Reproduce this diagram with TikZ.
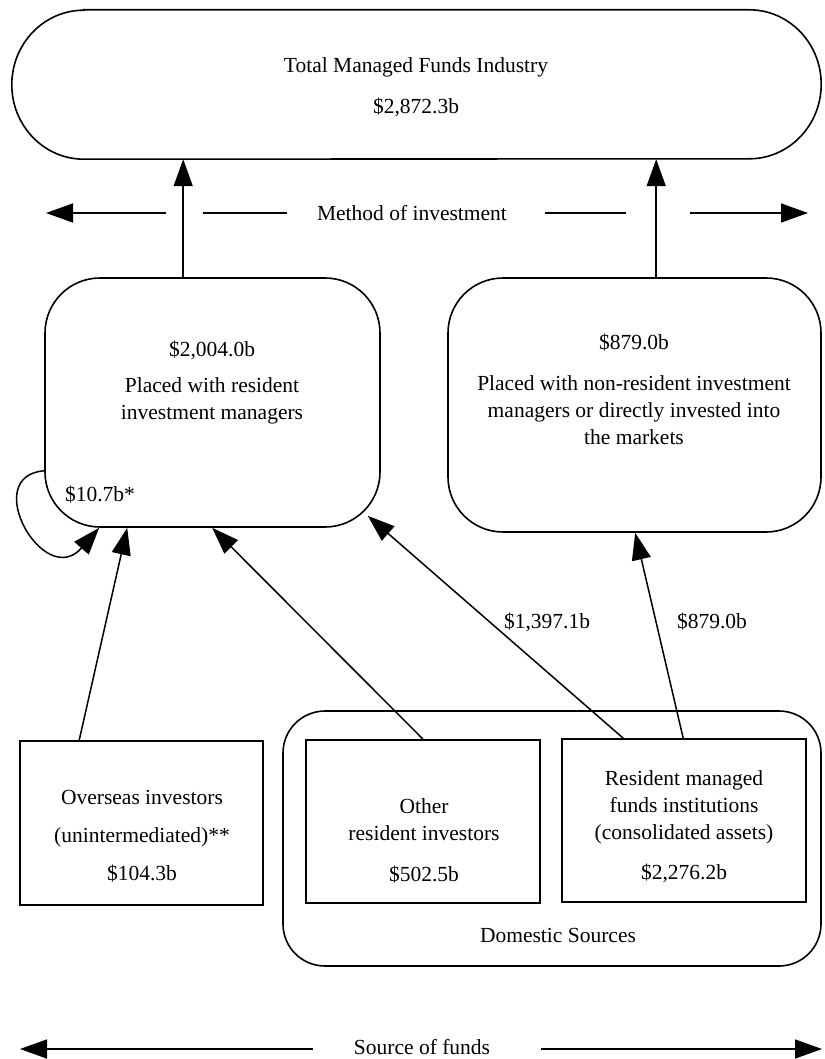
\documentclass[tikz,border=0pt]{standalone}
\usepackage{fontspec}
\setmainfont{Liberation Serif}
\usetikzlibrary{arrows.meta,calc}
\tikzset{
  txt/.style={font=\fontsize{21.5}{27}\selectfont, align=center, inner sep=0pt},
  shapebox/.style={draw, line width=1.6pt, inner sep=0pt},
  arr/.style={line width=1.5pt, -{Triangle[length=27pt,width=19pt]}},
  plain/.style={line width=1.5pt}
}
\begin{document}
\begin{tikzpicture}[x=1pt,y=-1pt]
\useasboundingbox (0,0) rectangle (824,1059);

% top pill
\node[inner sep=0pt, minimum width=809pt, minimum height=149pt] (top) at (416.5,84.5) {};
\draw[line width=1.6pt] ([xshift=72pt]top.north west) -- ([xshift=-72pt]top.north east)
  arc[start angle=90, end angle=-90, x radius=72pt, y radius=74.5pt]
  -- ([xshift=72pt]top.south west)
  arc[start angle=270, end angle=90, x radius=72pt, y radius=74.5pt] -- cycle;
\node[txt] (t1) at (416,67) {Total Managed Funds Industry};
\node[txt] (t2) at (416,107) {\$2,872.3b};

% middle boxes
\node[shapebox, rounded corners=55pt, minimum width=335pt, minimum height=249pt] (lb) at (212.5,402.5) {};
\node[shapebox, rounded corners=55pt, minimum width=373pt, minimum height=254pt] (rb) at (634.5,405) {};
\node[txt] (lb1) at (212,350) {\$2,004.0b};
\node[txt] (lb2) at (212,401) {Placed with resident\\investment managers};
\node[txt] (lb3) at (100,495) {\$10.7b*};
\node[txt] (rb1) at (634,343) {\$879.0b};
\node[txt] (rb2) at (634,410) {Placed with non-resident investment\\managers or directly invested into\\the markets};

% bottom boxes
\node[shapebox, rounded corners=42pt, minimum width=538pt, minimum height=255pt] (dom) at (552,838.5) {};
\node[shapebox, minimum width=243pt, minimum height=164pt] (ov) at (141.5,823) {};
\node[shapebox, minimum width=234pt, minimum height=163pt] (ot) at (423,821.5) {};
\node[shapebox, minimum width=244pt, minimum height=163pt] (rs) at (684,820.5) {};
\node[txt] (ov1) at (142,836) {Overseas investors\\[11pt](unintermediated)**\\[11pt]\$104.3b};
\node[txt] (ot1) at (424,820) {Other\\resident investors};
\node[txt] (ot2) at (424,875) {\$502.5b};
\node[txt] (rs1) at (684,807) {Resident managed\\funds institutions\\(consolidated assets)};
\node[txt] (rs2) at (684,873) {\$2,276.2b};
\node[txt] (dom1) at (558,935) {Domestic Sources};

% connectors up to the pill
\coordinate (a1) at ($(lb.north west)+(139,0)$);
\coordinate (a2) at ($(rb.north west)+(209,0)$);
\draw[arr] (a1) -- (a1 |- top.south);
\draw[arr] (a2) -- (a2 |- top.south);

% sources to middle boxes
\coordinate (o1) at ($(ov.north west)+(60,0)$);
\coordinate (l1) at ($(lb.south west)+(83,0)$);
\coordinate (o2) at (ot.north);
\coordinate (l2) at ($(lb.south west)+(168,0)$);
\coordinate (r1) at ($(rs.north west)+(62,0)$);
\coordinate (l3) at ($(lb.south east)+(-13,-12)$);
\coordinate (r2) at ($(rs.north west)+(122,0)$);
\coordinate (l4) at ($(rb.south west)+(188,0)$);
\draw[arr] (o1) -- (l1);
\draw[arr] (o2) -- (l2);
\draw[arr] (r1) -- (l3);
\draw[arr] (r2) -- (l4);

% self loop
\coordinate (s0) at ($(lb.south west)+(0,-57)$);
\coordinate (s1) at ($(lb.south west)+(55,0)$);
\draw[arr] (s0) .. controls ($(s0)+(-65,5)$) and ($(s0)+(0,120)$) .. (s1);

% edge labels
\node[txt] (e1) at (547,622) {\$1,397.1b};
\node[txt] (e2) at (712,622) {\$879.0b};

% method of investment row
\node[txt] (mt) at (412,213) {Method of investment};
\coordinate (m0) at (166,213); \coordinate (m1) at (46,213);
\coordinate (m2) at (203,213); \coordinate (m3) at (287,213);
\coordinate (m4) at (545,213); \coordinate (m5) at (626,213);
\coordinate (m6) at (690,213); \coordinate (m7) at (808,213);
\draw[arr] (m0) -- (m1);
\draw[plain] (m2) -- (m3);
\draw[plain] (m4) -- (m5);
\draw[arr] (m6) -- (m7);

% source of funds row
\node[txt] (sf) at (422,1047) {Source of funds};
\coordinate (f0) at (313,1049); \coordinate (f1) at (20,1049);
\coordinate (f2) at (541,1049); \coordinate (f3) at (822,1049);
\draw[arr] (f0) -- (f1);
\draw[arr] (f2) -- (f3);
\end{tikzpicture}
\end{document}
